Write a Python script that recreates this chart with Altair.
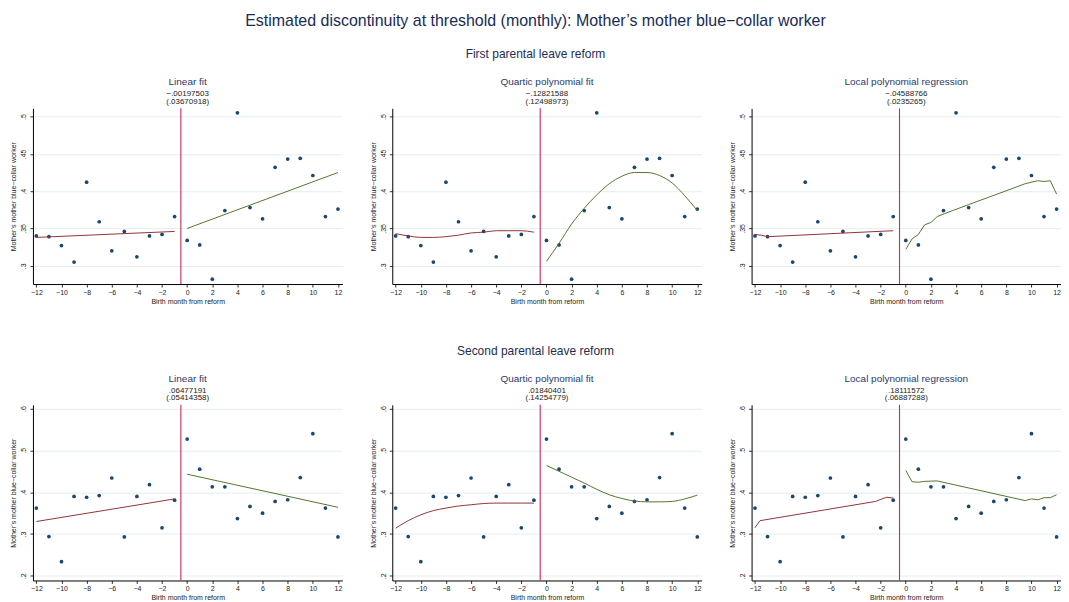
import altair as alt
import pandas as pd

FONT = "Liberation Sans"
NAVY = "#1a476f"
MAROON = "#90353b"
GREEN = "#55752f"
CUTOFF_RED = "#c92a5a"
TEXT = "#222222"

MONTHS = list(range(-12, 13))
X_TICKS = list(range(-12, 13, 2))

# monthly cell means
FIRST_MEANS = [0.340, 0.339, 0.327, 0.305, 0.412, 0.359, 0.320, 0.346, 0.312,
               0.340, 0.342, 0.366, 0.334, 0.328, 0.282, 0.374, 0.505, 0.378,
               0.363, 0.432, 0.443, 0.444, 0.421, 0.366, 0.376]
SECOND_MEANS = [0.362, 0.294, 0.234, 0.390, 0.388, 0.392, 0.434, 0.293, 0.390,
                0.418, 0.315, 0.381, 0.527, 0.455, 0.413, 0.413, 0.337, 0.366,
                0.350, 0.378, 0.382, 0.435, 0.540, 0.362, 0.293]

# fitted lines, first reform
F1_LIN_LX = [-12, -1]
F1_LIN_LY = [0.338, 0.346]
F1_LIN_RX = [0, 12]
F1_LIN_RY = [0.350, 0.425]

F1_QUA_LX = [-12, -11, -10, -9, -8, -7, -6, -5, -4, -3, -2, -1]
F1_QUA_LY = [0.343, 0.340, 0.338, 0.338, 0.339, 0.341, 0.344, 0.345, 0.347,
             0.347, 0.347, 0.345]
F1_QUA_RX = [0, 1, 2, 3, 4, 5, 6, 7, 8, 9, 10, 11, 12]
F1_QUA_RY = [0.306, 0.330, 0.356, 0.377, 0.395, 0.410, 0.420, 0.425, 0.425,
             0.421, 0.411, 0.394, 0.374]

F1_LOC_LX = [-12, -11.5, -11, -1]
F1_LOC_LY = [0.342, 0.341, 0.339, 0.347]
F1_LOC_RX = [0, 0.5, 1, 1.5, 2, 2.5, 3.1, 5, 7.1, 9.5, 10.5, 11, 11.5, 12]
F1_LOC_RY = [0.322, 0.336, 0.342, 0.355, 0.358, 0.366, 0.370, 0.382, 0.395,
             0.410, 0.414, 0.413, 0.414, 0.396]

# fitted lines, second reform
F2_LIN_LX = [-12, -1]
F2_LIN_LY = [0.330, 0.384]
F2_LIN_RX = [0, 12]
F2_LIN_RY = [0.443, 0.364]

F2_QUA_LX = [-12, -11, -10, -9, -8, -7, -6, -5, -4, -3, -2, -1]
F2_QUA_LY = [0.314, 0.332, 0.346, 0.356, 0.362, 0.367, 0.370, 0.373, 0.374,
             0.374, 0.374, 0.374]
F2_QUA_RX = [0, 1, 2, 3, 4, 5, 6, 7, 8, 9, 10, 11, 12]
F2_QUA_RY = [0.464, 0.450, 0.436, 0.422, 0.407, 0.394, 0.385, 0.379, 0.377,
             0.377, 0.378, 0.384, 0.393]

F2_LOC_LX = [-12, -11.6, -2.4, -1.9, -1.5, -1]
F2_LOC_LY = [0.315, 0.332, 0.378, 0.384, 0.388, 0.386]
F2_LOC_RX = [0, 0.5, 1, 1.5, 2.5, 9.5, 10, 10.5, 11, 11.5, 12]
F2_LOC_RY = [0.452, 0.425, 0.424, 0.426, 0.427, 0.380, 0.384, 0.382, 0.387,
             0.387, 0.394]

PANEL_TITLES = ["Linear fit", "Quartic polynomial fit", "Local polynomial regression"]
FIRST_EST = ["\u2212.00197503", "\u2212.12821588", "\u2212.04588766"]
FIRST_SE = ["(.03670918)", "(.12498973)", "(.0235265)"]
SECOND_EST = [".06477191", ".01840401", ".18111572"]
SECOND_SE = ["(.05414358)", "(.14254779)", "(.06887288)"]

FIRST_Y_DOMAIN = [0.2755, 0.511]
FIRST_Y_TICKS = [0.3, 0.35, 0.4, 0.45, 0.5]
SECOND_Y_DOMAIN = [0.189, 0.609]
SECOND_Y_TICKS = [0.2, 0.3, 0.4, 0.5, 0.6]


def panel(means, lx, ly, rx, ry, title, est, se, y_dom, y_ticks, interp):
    x_enc = alt.X(
        "month:Q",
        scale=alt.Scale(domain=[-12.27, 12.35], nice=False, zero=False),
        axis=alt.Axis(
            values=X_TICKS, grid=False, title="Birth month from reform",
            labelExpr="datum.value < 0 ? '\u2212' + abs(datum.value) : '' + datum.value",
            labelPadding=1, titlePadding=2, titleColor=TEXT,
        ),
    )
    y_enc = alt.Y(
        "value:Q",
        scale=alt.Scale(domain=y_dom, nice=False, zero=False),
        axis=alt.Axis(
            values=y_ticks, grid=True, title="Mother\u2019s mother blue\u2212collar worker",
            labelExpr="replace(format(datum.value, '.2~f'), '0.', '.')",
            labelAngle=270, labelAlign="center", labelBaseline="bottom",
            labelPadding=3, titlePadding=3, titleColor=TEXT,
        ),
    )
    pts = pd.DataFrame({"month": MONTHS, "value": means})
    left = pd.DataFrame({"month": lx, "value": ly})
    right = pd.DataFrame({"month": rx, "value": ry})

    cutoff = (
        alt.Chart(pd.DataFrame({"month": [-0.5]}))
        .mark_rule(color=CUTOFF_RED, strokeWidth=1.1)
        .encode(x=x_enc)
    )
    dots = (
        alt.Chart(pts)
        .mark_circle(color=NAVY, size=14, opacity=1)
        .encode(x=x_enc, y=y_enc)
    )
    fit_l = (
        alt.Chart(left)
        .mark_line(color=MAROON, strokeWidth=1, interpolate=interp)
        .encode(x=x_enc, y=y_enc)
    )
    fit_r = (
        alt.Chart(right)
        .mark_line(color=GREEN, strokeWidth=1, interpolate=interp)
        .encode(x=x_enc, y=y_enc)
    )
    return alt.layer(dots, fit_l, fit_r, cutoff).properties(
        width=310,
        height=176,
        title=alt.TitleParams(
            text=title, subtitle=[est, se], frame="group", anchor="middle",
            font=FONT, fontSize=10, fontWeight="normal", color="#2b3a6b",
            subtitleFont=FONT, subtitleFontSize=8, subtitleColor=TEXT,
            subtitlePadding=3, subtitleLineHeight=7.5, offset=2,
        ),
    )


def row(means, fits, est, se, y_dom, y_ticks, label):
    interps = ["linear", "monotone", "linear"]
    panels = [
        panel(means, *fits[i], PANEL_TITLES[i], est[i], se[i], y_dom, y_ticks, interps[i])
        for i in range(3)
    ]
    return alt.hconcat(
        *panels,
        spacing=27,
        title=alt.TitleParams(
            text=label, anchor="middle", font=FONT, fontSize=12,
            fontWeight="normal", color="#1e2d4f", offset=16,
        ),
    )


first_fits = [
    (F1_LIN_LX, F1_LIN_LY, F1_LIN_RX, F1_LIN_RY),
    (F1_QUA_LX, F1_QUA_LY, F1_QUA_RX, F1_QUA_RY),
    (F1_LOC_LX, F1_LOC_LY, F1_LOC_RX, F1_LOC_RY),
]
second_fits = [
    (F2_LIN_LX, F2_LIN_LY, F2_LIN_RX, F2_LIN_RY),
    (F2_QUA_LX, F2_QUA_LY, F2_QUA_RX, F2_QUA_RY),
    (F2_LOC_LX, F2_LOC_LY, F2_LOC_RX, F2_LOC_RY),
]

chart = (
    alt.vconcat(
        row(FIRST_MEANS, first_fits, FIRST_EST, FIRST_SE, FIRST_Y_DOMAIN,
            FIRST_Y_TICKS, "First parental leave reform"),
        row(SECOND_MEANS, second_fits, SECOND_EST, SECOND_SE, SECOND_Y_DOMAIN,
            SECOND_Y_TICKS, "Second parental leave reform"),
        spacing=40,
        title=alt.TitleParams(
            text="Estimated discontinuity at threshold (monthly): Mother\u2019s mother blue\u2212collar worker",
            anchor="middle", font=FONT, fontSize=16, fontWeight="normal",
            color="#1a2b54", offset=19,
        ),
    )
    .properties(padding={"left": 2, "top": 4, "right": 0, "bottom": 0}, background="white")
    .configure_view(stroke=None)
    .configure_axis(
        labelFont=FONT, labelFontSize=7, labelColor=TEXT,
        titleFont=FONT, titleFontSize=7, titleFontWeight="normal", titleColor=TEXT,
        domainColor="#000000", domainWidth=1, tickColor="#000000", tickSize=3,
        tickWidth=0.8, gridColor="#e4eef1", gridWidth=1,
    )
)

chart.save("out.html", embed_options={"renderer": "svg", "actions": False})
